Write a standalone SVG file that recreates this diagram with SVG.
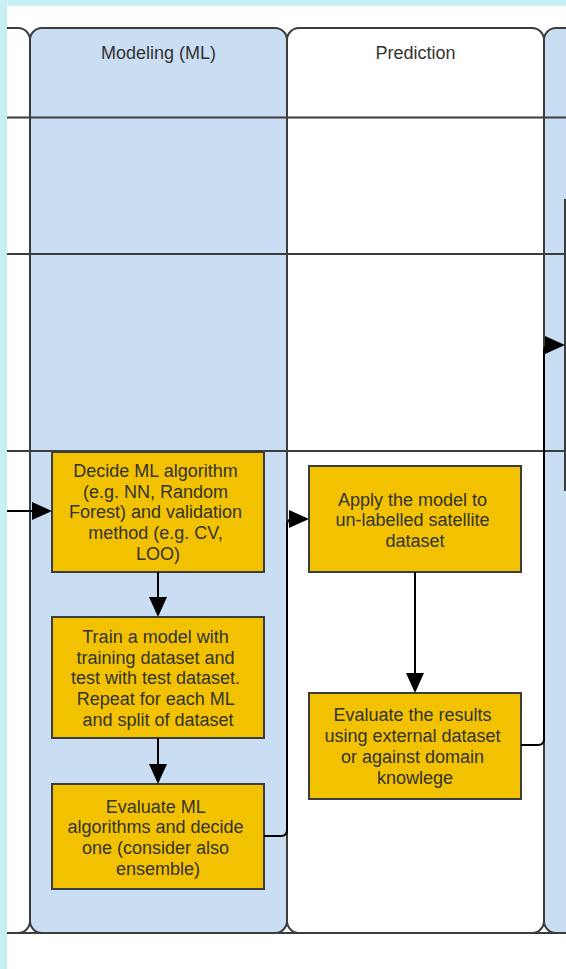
<svg xmlns="http://www.w3.org/2000/svg" width="566" height="969" viewBox="0 0 566 969">
  <style>
    .lane { stroke: #3c3c3c; stroke-width: 2; }
    .blue { fill: #c9def2; }
    .white { fill: #ffffff; }
    .row { stroke: #3c3c3c; stroke-width: 2; fill: none; }
    .head { font-family: "Liberation Sans", Arial, sans-serif; font-size: 18px; fill: #333333; text-anchor: middle; }
    .step rect { fill: #f2c200; stroke: #3c3c3c; stroke-width: 2; }
    .step text { font-family: "Liberation Sans", Arial, sans-serif; font-size: 18px; fill: #333333; text-anchor: middle; }
    .edge { stroke: #000000; stroke-width: 2; fill: none; marker-end: url(#arrow); }
    .backdrop { fill: #c8f0f2; }
  </style>
  <defs>
    <marker id="arrow" markerWidth="20" markerHeight="18" refX="10" refY="9" orient="auto" markerUnits="userSpaceOnUse">
      <path d="M0,0 L20,9 L0,18 Z" fill="#000000"/>
    </marker>
  </defs>

  <!-- page -->
  <rect x="0" y="0" width="566" height="969" fill="#ffffff"/>

  <!-- swimlanes -->
  <g id="lanes">
    <line class="row" x1="7" y1="933" x2="566" y2="933"/>
    <rect id="lane-previous" class="lane white" x="-227" y="28" width="257" height="905" rx="12" ry="12"/>
    <g id="lane-modeling">
      <rect class="lane blue" x="30" y="28" width="257" height="905" rx="12" ry="12"/>
      <text class="head" x="158.5" y="58.5">Modeling (ML)</text>
    </g>
    <g id="lane-prediction">
      <rect class="lane white" x="287" y="28" width="257" height="905" rx="12" ry="12"/>
      <text class="head" x="415.5" y="58.5">Prediction</text>
    </g>
    <rect id="lane-next" class="lane blue" x="544" y="28" width="257" height="905" rx="12" ry="12"/>
    <!-- row dividers -->
    <line class="row" x1="7" y1="117.5" x2="566" y2="117.5"/>
    <line class="row" x1="7" y1="254" x2="566" y2="254"/>
    <line class="row" x1="7" y1="451" x2="566" y2="451"/>
  </g>

  <!-- steps -->
  <g id="decide-algorithm" class="step">
    <rect x="52" y="452" width="212" height="120"/>
    <text>
      <tspan x="158" y="477">Decide ML algorithm</tspan>
      <tspan x="158" y="497.6">(e.g. NN, Random</tspan>
      <tspan x="158" y="518.3">Forest) and validation</tspan>
      <tspan x="158" y="539">method (e.g. CV,</tspan>
      <tspan x="158" y="559.7">LOO)</tspan>
    </text>
  </g>
  <g id="train-model" class="step">
    <rect x="52" y="617" width="212" height="121"/>
    <text>
      <tspan x="158" y="642.8">Train a model with</tspan>
      <tspan x="158" y="663.5">training dataset and</tspan>
      <tspan x="158" y="684.2">test with test dataset.</tspan>
      <tspan x="158" y="704.9">Repeat for each ML</tspan>
      <tspan x="158" y="725.6">and split of dataset</tspan>
    </text>
  </g>
  <g id="evaluate-ml" class="step">
    <rect x="52" y="784" width="212" height="105"/>
    <text>
      <tspan x="158" y="812.5">Evaluate ML</tspan>
      <tspan x="158" y="833.2">algorithms and decide</tspan>
      <tspan x="158" y="853.9">one (consider also</tspan>
      <tspan x="158" y="874.6">ensemble)</tspan>
    </text>
  </g>
  <g id="apply-model" class="step">
    <rect x="309" y="466" width="212" height="106"/>
    <text>
      <tspan x="415" y="505.6">Apply the model to</tspan>
      <tspan x="415" y="526.3">un-labelled satellite</tspan>
      <tspan x="415" y="547">dataset</tspan>
    </text>
  </g>
  <g id="evaluate-results" class="step">
    <rect x="309" y="693" width="212" height="106"/>
    <text>
      <tspan x="415" y="721.4">Evaluate the results</tspan>
      <tspan x="415" y="742.1">using external dataset</tspan>
      <tspan x="415" y="762.8">or against domain</tspan>
      <tspan x="415" y="783.5">knowlege</tspan>
    </text>
  </g>
  <g id="next-step" class="step">
    <rect x="565" y="200" width="212" height="290"/>
  </g>

  <!-- connectors -->
  <g id="connectors">
    <path class="edge" d="M7,511 H42"/>
    <path class="edge" d="M158,572 V607"/>
    <path class="edge" d="M158,738 V774"/>
    <path class="edge" d="M264,836 H281 Q287,836 287,830 V525 Q287,519 293,519 H299"/>
    <path class="edge" d="M415,572 V683"/>
    <path class="edge" d="M521,745 H538 Q544,745 544,739 V351 Q544,345 550,345 H555"/>
  </g>

  <!-- page border strips -->
  <rect class="backdrop" x="0" y="0" width="566" height="6"/>
  <rect class="backdrop" x="0" y="0" width="7" height="969"/>
</svg>
